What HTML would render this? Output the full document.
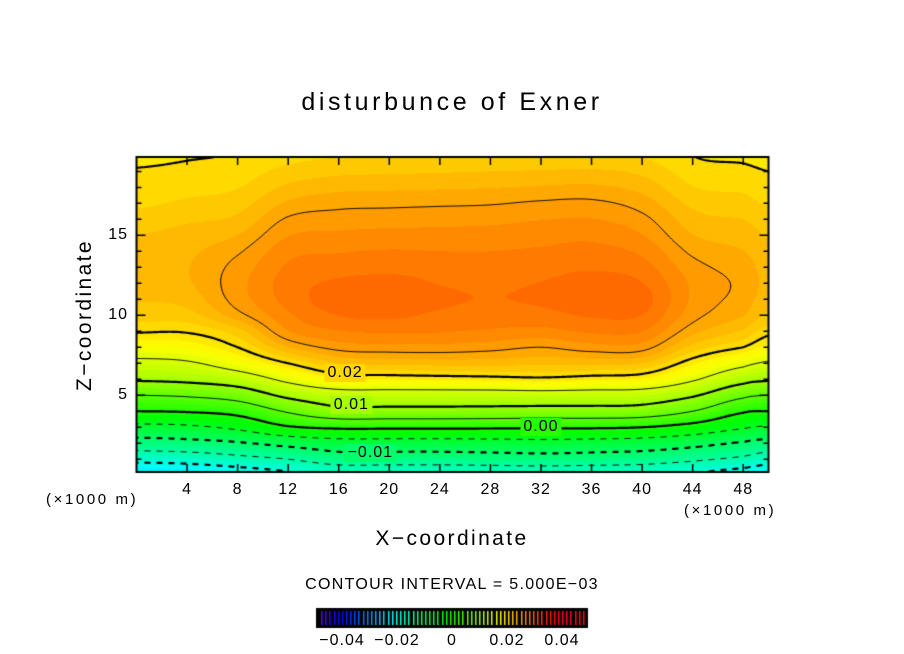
<!DOCTYPE html>
<html><head><meta charset="utf-8">
<style>
body{margin:0;background:#fff;}
#wrap{position:relative;width:904px;height:654px;overflow:hidden;font-family:"Liberation Sans",sans-serif;color:#000;}
.t{position:absolute;white-space:nowrap;}
</style></head>
<body>
<div id="wrap">
<div class="t" style="left:0;width:904px;top:88px;text-align:center;font-size:25px;letter-spacing:3.6px;">disturbunce of Exner</div>
<canvas id="cv" width="904" height="654" style="position:absolute;left:0;top:0"></canvas>
<div class="t" style="left:0;width:904px;top:527px;text-align:center;font-size:21px;letter-spacing:2.4px;">X−coordinate</div>
<div class="t" style="left:85px;top:315px;font-size:21px;letter-spacing:2.4px;transform:translate(-50%,-50%) rotate(-90deg);">Z−coordinate</div>
<div class="t" style="left:46px;top:491px;font-size:15px;letter-spacing:2.6px;">(×1000 m)</div>
<div class="t" style="left:684px;top:502px;font-size:15px;letter-spacing:2.6px;">(×1000 m)</div>
<div class="t" style="left:0;width:904px;top:576px;text-align:center;font-size:16px;letter-spacing:1.3px;">CONTOUR INTERVAL = 5.000E−03</div>
<div id="labels"></div>
</div>
<script>
const xs=[0,4,8,12,16,20,24,28,32,36,40,44,48,50];
const zs=[0,1,2,3,4,5,6,7,8,9,10,11,12,13,14,15,16,17,18,19,20];
const col0=[-0.025,-0.0185,-0.012,-0.0063,0.0,0.005,0.0105,0.014,0.0172,0.0202,0.0218,0.0226,0.023,0.0232,0.023,0.0225,0.0218,0.021,0.0205,0.0201,0.0197];
const col4=[-0.0245,-0.018,-0.0115,-0.0058,0.0003,0.0055,0.011,0.0145,0.0178,0.0202,0.022,0.023,0.0236,0.0237,0.0235,0.023,0.0223,0.0215,0.0208,0.0203,0.0199];
const col8=[-0.023,-0.0165,-0.0105,-0.004,0.0015,0.007,0.0125,0.017,0.02,0.022,0.0245,0.0256,0.0258,0.0255,0.0248,0.0238,0.0228,0.022,0.0212,0.0206,0.0201];
const col12=[-0.021,-0.015,-0.0085,-0.0005,0.0055,0.011,0.016,0.02,0.0237,0.0262,0.0273,0.028,0.0281,0.0277,0.0271,0.0262,0.0252,0.024,0.0228,0.0217,0.0208];
const col16=[-0.019,-0.0125,-0.007,0.0007,0.0085,0.013,0.0185,0.0225,0.0255,0.0274,0.0288,0.0295,0.029,0.0282,0.0274,0.0265,0.0256,0.0246,0.0234,0.0222,0.0212];
const col20=[-0.019,-0.0125,-0.007,0.0007,0.0085,0.013,0.0188,0.0228,0.0258,0.0277,0.029,0.0297,0.0292,0.0284,0.0276,0.0267,0.0257,0.0247,0.0235,0.0223,0.0213];
const col24=[-0.019,-0.0125,-0.007,0.0007,0.0085,0.013,0.019,0.023,0.0258,0.0276,0.0285,0.029,0.0287,0.0282,0.0275,0.0267,0.0258,0.0248,0.0236,0.0224,0.0214];
const col28=[-0.0188,-0.0123,-0.0068,0.0006,0.0084,0.013,0.0192,0.023,0.0255,0.0273,0.0282,0.0287,0.0285,0.028,0.0275,0.0268,0.0259,0.0249,0.0237,0.0225,0.0214];
const col32=[-0.0185,-0.012,-0.0065,0.0005,0.0082,0.0132,0.0195,0.0228,0.025,0.0271,0.0283,0.029,0.0288,0.0283,0.0277,0.027,0.0262,0.0252,0.0239,0.0226,0.0215];
const col36=[-0.0188,-0.0123,-0.0068,0.0005,0.0082,0.013,0.019,0.0228,0.0257,0.0277,0.0289,0.0297,0.0293,0.0286,0.0279,0.0272,0.0263,0.0253,0.024,0.0227,0.0215];
const col40=[-0.019,-0.0128,-0.0072,0.0,0.0078,0.0128,0.0185,0.0225,0.0256,0.0275,0.0287,0.0293,0.0288,0.028,0.0272,0.0263,0.0254,0.0244,0.0233,0.0222,0.0212];
const col44=[-0.0205,-0.0142,-0.0085,-0.0018,0.005,0.0105,0.0155,0.019,0.022,0.0242,0.0255,0.026,0.026,0.0255,0.0247,0.0238,0.023,0.0222,0.0213,0.0206,0.02];
const col48=[-0.0225,-0.016,-0.0105,-0.0045,0.0005,0.006,0.0115,0.016,0.02,0.0223,0.0238,0.0245,0.0247,0.0244,0.0238,0.0232,0.0225,0.0217,0.021,0.0203,0.0198];
const col50=[-0.024,-0.0178,-0.0117,-0.0055,0.0,0.005,0.0105,0.0145,0.0183,0.0205,0.0222,0.023,0.0233,0.0232,0.0229,0.0224,0.0218,0.0211,0.0205,0.02,0.0196];
const columns=[col0,col4,col8,col12,col16,col20,col24,col28,col32,col36,col40,col44,col48,col50];
const xTicks=[4,8,12,16,20,24,28,32,36,40,44,48];
const zTicks=[5,10,15];
const cbTicks=[-0.04,-0.02,0,0.02,0.04];
const cbTickLabels=["−0.04","−0.02","0","0.02","0.04"];
const contourLabels=[["0.02",16.5,6.4],["0.01",17,4.4],["0.00",32,3.0],["−0.01",18.5,1.4]];

const L=136.5,R=768.5,T=157,B=472;
const zMin=0.2,zMax=19.9,xMin=0,xMax=50;
const FILL=0.00125;
const sx=x=>L+(x-xMin)/(xMax-xMin)*(R-L);
const sz=z=>B-(z-zMin)/(zMax-zMin)*(B-T);
function cr(p0,p1,p2,p3,t){
  return 0.5*((2*p1)+(-p0+p2)*t+(2*p0-5*p1+4*p2-p3)*t*t+(-p0+3*p1-3*p2+p3)*t*t*t);
}
function seg(arr,v){let i=0;while(i<arr.length-2&&v>arr[i+1])i++;
  return [i,Math.max(0,Math.min(1,(v-arr[i])/(arr[i+1]-arr[i])))];}
function field(x,z){
  const [i,tx]=seg(xs,x);const [j,tz]=seg(zs,z);
  const cz=c=>{const col=columns[Math.max(0,Math.min(xs.length-1,c))];
    const g=k=>col[Math.max(0,Math.min(zs.length-1,k))];
    return cr(g(j-1),g(j),g(j+1),g(j+2),tz);};
  return cr(cz(i-1),cz(i),cz(i+1),cz(i+2),tx);
}
function colorFor(v){
  const hue=Math.max(-10,Math.min(275,113-3000*v));
  return "hsl("+(hue<0?hue+360:hue)+",100%,50%)";
}
const cv=document.getElementById('cv');const ctx=cv.getContext('2d');
const W=Math.round(R-L),H=Math.round(B-T);
for(let py=0;py<H;py++){
  for(let px=0;px<W;px++){
    const x=xMin+(px+0.5)/W*(xMax-xMin), z=zMax-(py+0.5)/H*(zMax-zMin);
    const v=field(x,z);
    const q=Math.floor(v/FILL)*FILL+FILL/2;
    ctx.fillStyle=colorFor(q);
    ctx.fillRect(Math.round(L)+px,T+py,1,1);
  }
}
const step=2;const nx=Math.ceil(W/step)+1,nz=Math.ceil(H/step)+1;
const grid=[];
for(let j=0;j<nz;j++){const row=[];for(let i=0;i<nx;i++){
  const px=Math.min(W,i*step),py=Math.min(H,j*step);
  row.push(field(xMin+px/W*(xMax-xMin),zMax-py/H*(zMax-zMin)));}grid.push(row);}
ctx.save();ctx.beginPath();ctx.rect(L,T,W,H);ctx.clip();
for(let k=-5;k<=6;k++){
  const lev=k*0.005;const dashed=lev<-1e-9;
  ctx.beginPath();
  for(let j=0;j<nz-1;j++)for(let i=0;i<nx-1;i++){
    const p=[[i,j],[i+1,j],[i+1,j+1],[i,j+1]];
    const vals=p.map(q=>grid[q[1]][q[0]]);
    const pts=[];
    for(let e=0;e<4;e++){const a=vals[e],b=vals[(e+1)%4];
      if((a<lev)!==(b<lev)){const t=(lev-a)/(b-a);
        const X=p[e][0]+(p[(e+1)%4][0]-p[e][0])*t,Y=p[e][1]+(p[(e+1)%4][1]-p[e][1])*t;
        pts.push([L+X*step,T+Y*step]);}}
    for(let s=0;s+1<pts.length;s+=2){
      if(dashed){const mx=(pts[s][0]+pts[s+1][0])/2;if((mx%12)>7)continue;}
      ctx.moveTo(pts[s][0],pts[s][1]);ctx.lineTo(pts[s+1][0],pts[s+1][1]);}
  }
  ctx.lineWidth=(k%2===0)?2.2:1;
  ctx.strokeStyle="#000";ctx.stroke();
}
ctx.restore();
ctx.lineWidth=2;ctx.strokeStyle="#000";ctx.strokeRect(L,T,R-L,B-T);
ctx.lineWidth=1.5;
xTicks.forEach(x=>{const X=sx(x);ctx.beginPath();ctx.moveTo(X,B);ctx.lineTo(X,B-8);ctx.moveTo(X,T);ctx.lineTo(X,T+8);ctx.stroke();});
for(let z=1;z<=19;z++){const Y=sz(z);const len=(z%5===0)?9:5;ctx.beginPath();ctx.moveTo(L,Y);ctx.lineTo(L+len,Y);ctx.moveTo(R,Y);ctx.lineTo(R-len,Y);ctx.stroke();}
const cbL=316,cbR=588,cbT=608,cbB=628;
ctx.fillStyle="#000";ctx.fillRect(cbL,cbT,cbR-cbL,cbB-cbT);
const cbN=64;
for(let n=0;n<cbN;n++){const v=-0.05+(n+0.5)/cbN*0.1;const X=cbL+3+(n+0.5)/cbN*(cbR-cbL-6);
  ctx.fillStyle=colorFor(v);ctx.fillRect(Math.round(X),cbT+3,1.5,cbB-cbT-6);}
const lab=document.getElementById('labels');
function addText(txt,x,y,size,name,anchor){
  const d=document.createElement('div');d.className='t';d.textContent=txt;
  d.style.fontSize=size+'px';d.style.left=x+'px';d.style.top=y+'px';
  d.style.transform=anchor;d.style.letterSpacing='1px';
  
  
  lab.appendChild(d);return d;
}
xTicks.forEach(x=>addText(String(x),sx(x),490,16,'x-tick-label','translate(-50%,-50%)'));
zTicks.forEach(z=>addText(String(z),128,sz(z),16,'y-tick-label','translate(-100%,-50%)'));
cbTicks.forEach((v,i)=>addText(cbTickLabels[i],452+v/0.02*55,641,16,'colorbar-tick-label','translate(-50%,-50%)'));
contourLabels.forEach(c=>{const d=addText(c[0],sx(c[1]),sz(c[2]),16,'contour-label','translate(-50%,-50%)');
  d.style.background=colorFor(Math.floor(field(c[1],c[2])/FILL)*FILL+FILL/2);d.style.padding='0 3px';});
</script>
</body></html>
